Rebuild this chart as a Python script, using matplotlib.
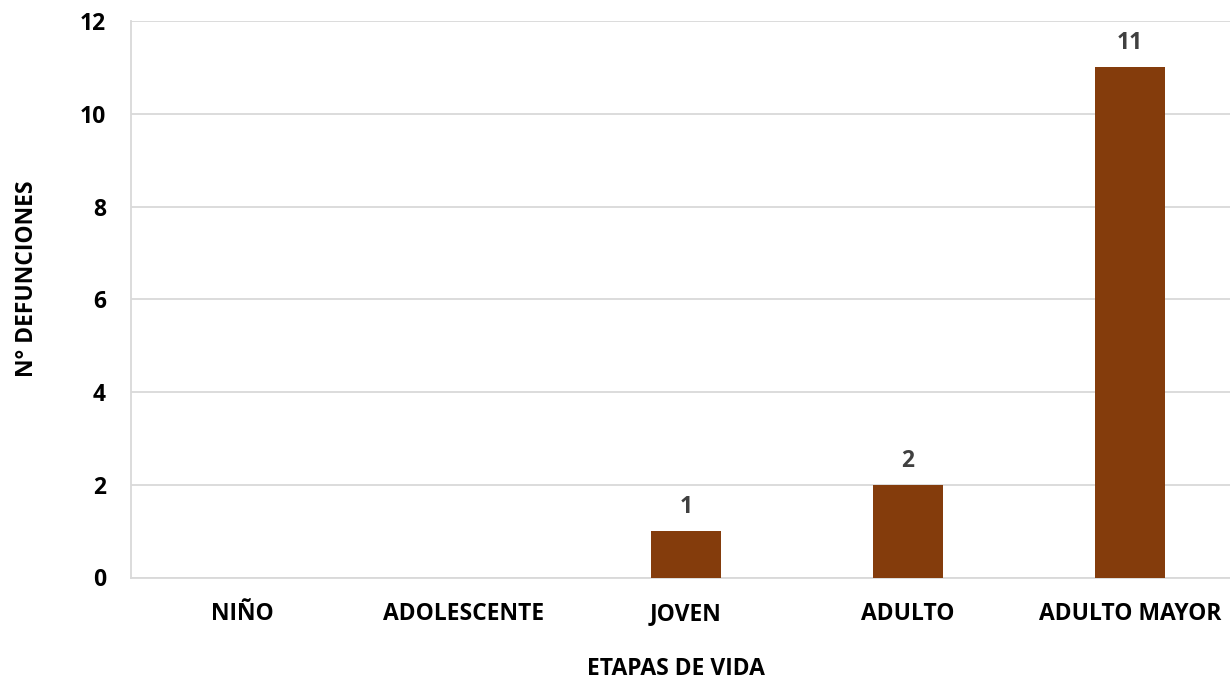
import matplotlib.pyplot as plt
import numpy as np

plt.rcParams['font.family'] = ['Open Sans', 'DejaVu Sans']

# Datos
etapas = ['NIÑO', 'ADOLESCENTE', 'JOVEN', 'ADULTO', 'ADULTO MAYOR']
defunciones = [0, 0, 1, 2, 11]
y_ticks = [0, 2, 4, 6, 8, 10, 12]

color_barra = '#843C0C'
color_grid = '#D9D9D9'
fs = 16.5

fig = plt.figure(figsize=(12.3, 6.83), dpi=100)
# el area del grafico se sale un poco por la derecha (recortada en el original)
ax = fig.add_axes([131 / 1230, 1 - 577.5 / 683, 1110 / 1230, 556.5 / 683])

x = np.arange(len(etapas))
bars = ax.bar(x, defunciones, width=0.315, color=color_barra, zorder=3)

for rect, val in zip(bars, defunciones):
    if val > 0:
        ax.text(rect.get_x() + rect.get_width() / 2, val + 0.39, str(val),
                ha='center', va='baseline', fontsize=fs, fontweight='bold', color='#404040')

ax.set_xlim(-0.5, len(etapas) - 0.5)
ax.set_ylim(0, 12)
ax.set_yticks(y_ticks)
ax.set_xticks(x)
ax.set_xticklabels(etapas, fontsize=fs, fontweight='bold')
ax.set_yticklabels([str(t) for t in y_ticks], fontsize=fs, fontweight='bold')
ax.tick_params(axis='both', length=0)
ax.tick_params(axis='y', pad=18)
ax.tick_params(axis='x', pad=18)

ax.grid(axis='y', color=color_grid, linewidth=1.3, zorder=0)
for side in ['top', 'right']:
    ax.spines[side].set_visible(False)
ax.spines['left'].set_color(color_grid)
ax.spines['left'].set_linewidth(1.3)
ax.spines['bottom'].set_color(color_grid)
ax.spines['bottom'].set_linewidth(1.3)

fig.text(676 / 1230, 1 - 675 / 683, 'ETAPAS DE VIDA', ha='center', va='baseline',
         fontsize=fs, fontweight='bold')
fig.text(27 / 1230, 1 - 279 / 683, 'N° DEFUNCIONES', ha='center', va='center',
         rotation=90, fontsize=fs, fontweight='bold')

plt.savefig('out.png', dpi=100)
plt.close(fig)
